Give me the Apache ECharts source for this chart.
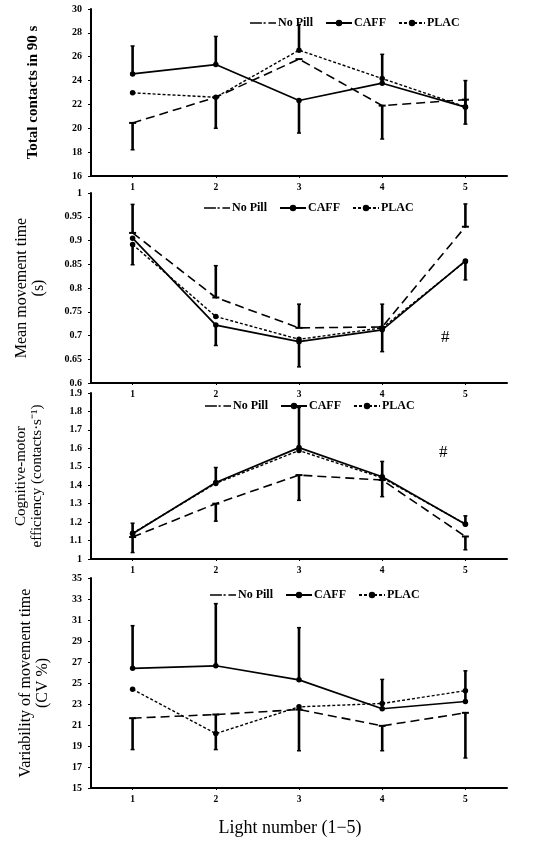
<!DOCTYPE html>
<html>
<head>
<meta charset="utf-8">
<script src="https://cdn.jsdelivr.net/npm/echarts@6/dist/echarts.min.js"></script>
<style>
  html, body { margin: 0; padding: 0; background: #fff; }
  #chart { width: 550px; height: 848px; }
</style>
</head>
<body>
<div id="chart"></div>
<script>
const lights = ["1", "2", "3", "4", "5"];
const seriesNames = ["No Pill", "CAFF", "PLAC"];

// Total contacts in 90 s
const totalNoPill = [20.45, 22.6, 25.8, 21.9, 22.4];
const totalNoPillErr = [18.2, 20.0, null, 19.1, 20.35];
const totalCaff = [24.56, 25.34, 22.33, 23.78, 21.77];
const totalCaffErr = [26.9, 27.7, 19.6, null, 24.0];
const totalPlac = [22.97, 22.6, 26.55, 24.17, 21.8];
const totalPlacErr = [null, null, 28.7, 26.2, null];
const totalTicks = [16, 18, 20, 22, 24, 26, 28, 30];

// Mean movement time (s)
const mmtNoPill = [0.916, 0.78, 0.716, 0.718, 0.929];
const mmtNoPillErr = [0.976, 0.847, 0.766, null, 0.977];
const mmtCaff = [0.905, 0.722, 0.687, 0.712, 0.857];
const mmtCaffErr = [null, 0.679, 0.634, 0.666, 0.817];
const mmtPlac = [0.8915, 0.74, 0.692, 0.716, 0.856];
const mmtPlacErr = [0.849, null, null, 0.766, null];
const mmtTicks = [0.6, 0.65, 0.7, 0.75, 0.8, 0.85, 0.9, 0.95, 1];

// Cognitive-motor efficiency
const cmeNoPill = [1.119, 1.3, 1.455, 1.428, 1.122];
const cmeNoPillErr = [1.035, 1.205, 1.318, 1.338, 1.05];
const cmeCaff = [1.137, 1.415, 1.604, 1.446, 1.189];
const cmeCaffErr = [1.194, 1.496, 1.822, 1.529, 1.234];
const cmePlac = [1.14, 1.41, 1.588, 1.44, 1.19];
const cmePlacErr = [null, null, null, null, null];
const cmeTicks = [1, 1.1, 1.2, 1.3, 1.4, 1.5, 1.6, 1.7, 1.8, 1.9];

// Variability of movement time (CV %)
const cvNoPill = [21.65, 22.0, 22.47, 20.92, 22.16];
const cvNoPillErr = [18.66, 18.66, 18.55, 18.55, 17.86];
const cvCaff = [26.4, 26.64, 25.3, 22.55, 23.24];
const cvCaffErr = [30.46, 32.56, 30.27, 25.34, 26.16];
const cvPlac = [24.4, 20.18, 22.73, 23.05, 24.27];
const cvPlacErr = [null, null, null, null, null];
const cvTicks = [15, 17, 19, 21, 23, 25, 27, 29, 31, 33, 35];

const SERIF = "Liberation Serif";

const panels = [
  {
    name: "Total contacts in 90 s", nameWeight: "bold", nameSize: 15, nameGap: 50,
    top: 9, height: 167, ticks: totalTicks,
    noPill: [totalNoPill, totalNoPillErr], caff: [totalCaff, totalCaffErr], plac: [totalPlac, totalPlacErr],
    legendLeft: 245, legendTop: 12,
  },
  {
    name: "Mean movement time\n(s)", nameWeight: "normal", nameSize: 16, nameGap: 44,
    top: 193, height: 190, ticks: mmtTicks,
    noPill: [mmtNoPill, mmtNoPillErr], caff: [mmtCaff, mmtCaffErr], plac: [mmtPlac, mmtPlacErr],
    legendLeft: 199, legendTop: 197,
  },
  {
    name: "Cognitive-motor\nefficiency (contacts\u00b7s\u207b\u00b9)", nameWeight: "normal", nameSize: 15, nameGap: 46,
    top: 393, height: 166, ticks: cmeTicks,
    noPill: [cmeNoPill, cmeNoPillErr], caff: [cmeCaff, cmeCaffErr], plac: [cmePlac, cmePlacErr],
    legendLeft: 200, legendTop: 395,
  },
  {
    name: "Variability of movement time\n(CV %)", nameWeight: "normal", nameSize: 16, nameGap: 40,
    top: 578, height: 210, ticks: cvTicks,
    noPill: [cvNoPill, cvNoPillErr], caff: [cvCaff, cvCaffErr], plac: [cvPlac, cvPlacErr],
    legendLeft: 205, legendTop: 584,
  },
];

const lineStyles = {
  "No Pill": { type: [9, 5], width: 1.6, symbol: "rect", symbolSize: [7, 2] },
  CAFF: { type: "solid", width: 1.7, symbol: "circle", symbolSize: 5.5 },
  PLAC: { type: [3, 2], width: 1.4, symbol: "circle", symbolSize: 5.5 },
};

// legend icon for No Pill: long dash, tiny dot, short dash
const noPillIcon = "path://M0,4.2H11V5.8H0Z M12.5,4.2H14.5V5.8H12.5Z M17,4.2H24V5.8H17Z";

function renderErrorBar(params, api) {
  const x = api.value(0);
  const p1 = api.coord([x, api.value(1)]);
  const p2 = api.coord([x, api.value(2)]);
  const cap = 2;
  const style = { stroke: "#000", lineWidth: 2.6 };
  return {
    type: "group",
    children: [
      { type: "line", shape: { x1: p1[0], y1: p1[1], x2: p2[0], y2: p2[1] }, style },
      { type: "line", shape: { x1: p2[0] - cap, y1: p2[1], x2: p2[0] + cap, y2: p2[1] }, style: { stroke: "#000", lineWidth: 1.5 } },
    ],
  };
}

function buildOption() {
  const grid = [];
  const xAxis = [];
  const yAxis = [];
  const series = [];
  const legend = [];

  panels.forEach((p, i) => {
    grid.push({ left: 91, right: 43, top: p.top, height: p.height });

    xAxis.push({
      type: "category",
      gridIndex: i,
      data: lights,
      boundaryGap: true,
      axisLine: { lineStyle: { color: "#000", width: 2 } },
      axisTick: { show: true, alignWithLabel: true, length: 2, lineStyle: { color: "#000" } },
      axisLabel: { color: "#000", fontFamily: SERIF, fontWeight: "bold", fontSize: 9.5, margin: 7 },
      splitLine: { show: false },
      name: i === panels.length - 1 ? "Light number (1\u22125)" : "",
      nameLocation: "middle",
      nameGap: 31,
      nameTextStyle: { color: "#000", fontFamily: SERIF, fontSize: 18, padding: [0, 18, 0, 0] },
    });

    yAxis.push({
      type: "value",
      gridIndex: i,
      min: p.ticks[0],
      max: p.ticks[p.ticks.length - 1],
      axisLine: { show: true, lineStyle: { color: "#000", width: 2 } },
      axisTick: { show: true, length: 3, customValues: p.ticks, lineStyle: { color: "#000" } },
      axisLabel: { color: "#000", fontFamily: SERIF, fontWeight: "bold", fontSize: 10, margin: 9, customValues: p.ticks },
      splitLine: { show: false },
      name: p.name,
      nameLocation: "middle",
      nameRotate: 90,
      nameGap: p.nameGap,
      nameTextStyle: {
        color: "#000", fontFamily: SERIF, fontSize: p.nameSize,
        fontWeight: p.nameWeight, lineHeight: p.nameSize + 1,
      },
    });

    const groups = { "No Pill": p.noPill, CAFF: p.caff, PLAC: p.plac };
    seriesNames.forEach((name) => {
      const st = lineStyles[name];
      const [vals, errs] = groups[name];
      series.push({
        name,
        type: "line",
        xAxisIndex: i,
        yAxisIndex: i,
        data: vals,
        symbol: st.symbol,
        symbolSize: st.symbolSize,
        itemStyle: { color: "#000" },
        lineStyle: { color: "#000", width: st.width, type: st.type },
        z: 3,
        animation: false,
      });
      const errData = [];
      vals.forEach((v, k) => {
        if (errs[k] !== null) errData.push([k, v, errs[k]]);
      });
      series.push({
        type: "custom",
        xAxisIndex: i,
        yAxisIndex: i,
        renderItem: renderErrorBar,
        data: errData,
        encode: { x: 0, y: [1, 2] },
        z: 4,
        silent: true,
        animation: false,
      });
    });

    legend.push({
      data: [{ name: "No Pill", icon: noPillIcon }, "CAFF", "PLAC"],
      left: p.legendLeft,
      top: p.legendTop,
      itemWidth: 26,
      itemHeight: 8,
      itemGap: 12,
      selectedMode: false,
      textStyle: { color: "#000", fontFamily: SERIF, fontWeight: "bold", fontSize: 12, padding: [0, 0, 0, -3] },
    });
  });

  return {
    backgroundColor: "#fff",
    animation: false,
    grid,
    xAxis,
    yAxis,
    legend,
    series,
    graphic: [
      { type: "text", left: 441, top: 329, style: { text: "#", fill: "#000", font: "17px 'Liberation Serif'" } },
      { type: "text", left: 439, top: 444, style: { text: "#", fill: "#000", font: "17px 'Liberation Serif'" } },
    ],
  };
}

document.addEventListener("DOMContentLoaded", function () {
  const chart = echarts.init(document.getElementById("chart"));
  chart.setOption(buildOption());
});
</script>
</body>
</html>
